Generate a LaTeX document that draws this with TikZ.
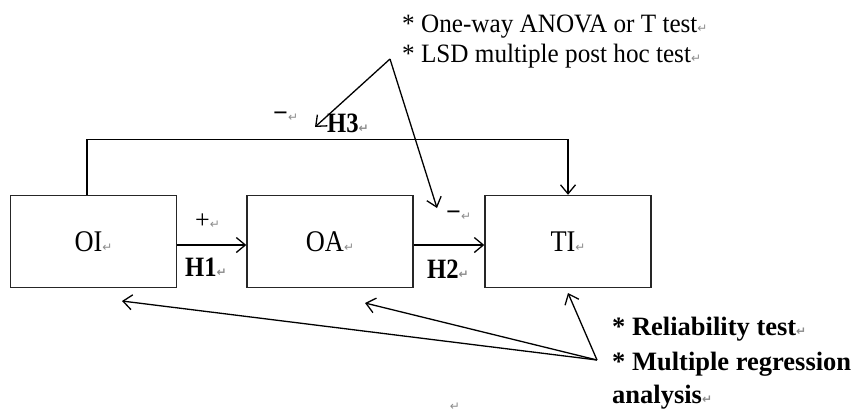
\documentclass[tikz,border=0pt]{standalone}
\usepackage{fontspec}
\setmainfont{Liberation Serif}
\newfontfamily\pmfont{DejaVu Sans}
\newfontfamily\boxfont[FakeStretch=0.88]{Liberation Serif}
\newfontfamily\notefont[FakeStretch=0.95]{Liberation Serif}
\usetikzlibrary{arrows.meta}
% paragraph mark shown after each text line
\newcommand\pmk{{\pmfont\fontsize{12}{12}\selectfont\color{black!45}\char"21B5}}

\begin{document}
\begin{tikzpicture}[x=1pt,y=-1pt,
  box/.style={draw=black!85,line width=1.4pt,minimum width=166pt,
    minimum height=92pt,inner sep=0pt,
    font=\boxfont\fontsize{30}{30}\selectfont},
  link/.style={line width=1.3pt,
    -{Straight Barb[length=9pt,width=15pt,line width=1.3pt]}},
  hlabel/.style={font=\boxfont\bfseries\fontsize{28}{28}\selectfont,
    inner sep=0pt,anchor=base west},
  sign/.style={font=\fontsize{26}{26}\selectfont,inner sep=0pt,anchor=base west},
  note/.style={font=\notefont\fontsize{26.5}{26.5}\selectfont,inner sep=0pt,
    anchor=base west},
  bnote/.style={font=\bfseries\fontsize{26.5}{26.5}\selectfont,inner sep=0pt,
    anchor=base west}]
\useasboundingbox (0,0) rectangle (856,416);

% constructs
\node[box] (OI) at (93.5,241.5) {OI\pmk};
\node[box] (OA) at (330,241.5) {OA\pmk};
\node[box] (TI) at (568,241.5) {TI\pmk};

% hypotheses
\draw[link] ([yshift=-3.5pt]OI.east) -- ([yshift=-3.5pt]OA.west);
\draw[link] ([yshift=-3.5pt]OA.east) -- ([yshift=-3.5pt]TI.west);
\draw[link] ([xshift=-6.5pt]OI.north) -- ++(0,-55) -| (TI.north);

\node[sign] (plus1) at (195,228) {+\pmk};
\node[hlabel] (H1) at (185,276) {H1\pmk};
\node[sign] (minus2) at (446,220) {\textbf{−}\pmk};
\node[hlabel] (H2) at (427,278) {H2\pmk};
\node[sign] (minus3) at (273,121) {\textbf{−}\pmk};
\node[hlabel] (H3) at (327,132) {H3\pmk};

% analyses for H3 and H2
\node[note] (anovaA) at (402,32) {* One-way ANOVA or T test\pmk};
\node[note] (anovaB) at (402,62) {* LSD multiple post hoc test\pmk};
\coordinate (topapex) at (390,59);
\coordinate (toH3) at (315,127);
\coordinate (toH2) at (437,208);
\draw[link] (topapex) -- (toH3);
\draw[link] (topapex) -- (toH2);

% analyses for all constructs
\node[bnote] (relA) at (612,335) {* Reliability test\pmk};
\node[bnote] (relB) at (612,370) {* Multiple regression};
\node[bnote] (relC) at (612,403) {analysis\pmk};
\coordinate (botapex) at (597,360);
\coordinate (toOI) at (122,301);
\coordinate (toOA) at (365,303);
\coordinate (toTI) at (568,293);
\draw[link] (botapex) -- (toOI);
\draw[link] (botapex) -- (toOA);
\draw[link] (botapex) -- (toTI);

\node[inner sep=0pt] (endmark) at (455,407) {\pmk};
\end{tikzpicture}
\end{document}
